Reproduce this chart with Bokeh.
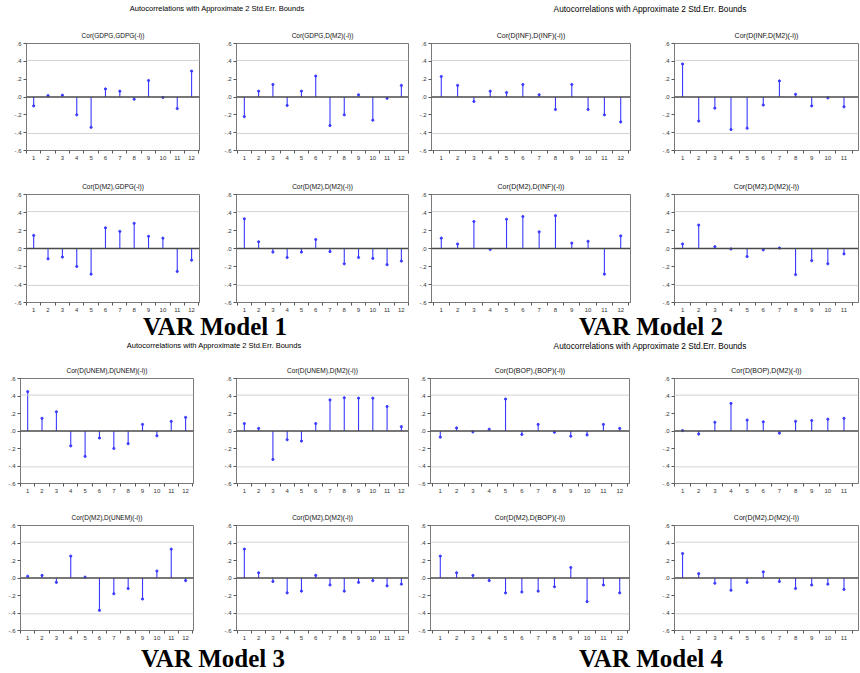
from bokeh.plotting import figure
from bokeh.layouts import column, row
from bokeh.models import Div, Range1d, FixedTicker, Span
from bokeh.embed import file_html
from bokeh.resources import INLINE

# ---------------- data ----------------
lags = list(range(1, 13))
group_title = "Autocorrelations with Approximate 2 Std.Err. Bounds"
model_labels = ["VAR Model 1", "VAR Model 2", "VAR Model 3", "VAR Model 4"]
y_ticks = [-0.6, -0.4, -0.2, 0.0, 0.2, 0.4, 0.6]
y_tick_labels = ["-.6", "-.4", "-.2", ".0", ".2", ".4", ".6"]
bound = 0.41

titles_row1 = ["Cor(GDPG,GDPG(-i))", "Cor(GDPG,D(M2)(-i))",
               "Cor(D(INF),D(INF)(-i))", "Cor(D(INF,D(M2)(-i))"]
titles_row2 = ["Cor(D(M2),GDPG(-i))", "Cor(D(M2),D(M2)(-i))",
               "Cor(D(M2),D(INF)(-i))", "Cor(D(M2),D(M2)(-i))"]
titles_row3 = ["Cor(D(UNEM),D(UNEM)(-i))", "Cor(D(UNEM),D(M2)(-i))",
               "Cor(D(BOP),(BOP)(-i))", "Cor(D(BOP),D(M2)(-i))"]
titles_row4 = ["Cor(D(M2),D(UNEM)(-i))", "Cor(D(M2),D(M2)(-i))",
               "Cor(D(M2),D(BOP)(-i))", "Cor(D(M2),D(M2)(-i))"]

gdpg_gdpg = [-0.10, 0.015, 0.02, -0.20, -0.34, 0.09, 0.065, -0.025, 0.185, -0.005, -0.13, 0.29]
gdpg_m2 = [-0.22, 0.065, 0.14, -0.095, 0.065, 0.235, -0.32, -0.20, 0.025, -0.26, -0.015, 0.13]
inf_inf = [0.23, 0.13, -0.05, 0.065, 0.05, 0.14, 0.025, -0.14, 0.14, -0.14, -0.20, -0.28]
inf_m2 = [0.37, -0.27, -0.125, -0.365, -0.35, -0.09, 0.18, 0.03, -0.10, -0.01, -0.11, -0.12]
m2_gdpg = [0.145, -0.115, -0.095, -0.20, -0.285, 0.23, 0.19, 0.28, 0.135, 0.115, -0.255, -0.13]
m2_m2_1 = [0.33, 0.075, -0.04, -0.10, -0.04, 0.10, -0.035, -0.17, -0.10, -0.11, -0.18, -0.14]
m2_inf = [0.115, 0.05, 0.30, -0.01, 0.325, 0.355, 0.185, 0.365, 0.06, 0.08, -0.285, 0.14]
m2_m2_2 = [0.05, 0.26, 0.02, -0.005, -0.09, -0.015, 0.005, -0.29, -0.135, -0.17, -0.06, -0.02]
unem_unem = [0.45, 0.145, 0.22, -0.17, -0.29, -0.08, -0.20, -0.145, 0.075, -0.055, 0.11, 0.155]
unem_m2 = [0.085, 0.03, -0.325, -0.10, -0.115, 0.085, 0.355, 0.38, 0.375, 0.375, 0.28, 0.05]
bop_bop = [-0.07, 0.035, -0.01, 0.02, 0.365, -0.04, 0.075, -0.015, -0.06, -0.045, 0.075, 0.03]
bop_m2 = [0.005, -0.035, 0.10, 0.315, 0.125, 0.105, -0.025, 0.11, 0.12, 0.135, 0.145, 0.12]
m2_unem = [0.02, 0.03, -0.05, 0.25, 0.01, -0.37, -0.18, -0.12, -0.24, 0.08, 0.33, -0.03]
m2_m2_3 = [0.33, 0.06, -0.04, -0.17, -0.15, 0.03, -0.08, -0.15, -0.05, -0.03, -0.09, -0.07]
m2_bop = [0.25, 0.06, 0.03, -0.03, -0.17, -0.16, -0.15, -0.10, 0.12, -0.27, -0.08, -0.17]
m2_m2_4 = [0.28, 0.05, -0.06, -0.14, -0.05, 0.07, -0.04, -0.12, -0.08, -0.07, -0.13, -0.10]

# ---------------- style ----------------
STEM = "#3a3aff"
FONT = "Liberation Sans"

x_ranges = [(0.5, 12.55), (0.45, 12.5), (0.4, 12.6), (0.5, 11.9)]
col_top = [(212, 26, 13), (200, 24, 4), (233, 19, 15), (215, 29, 2)]
col_bot = [(212, 20, 19), (200, 24, 4), (233, 18, 16), (215, 29, 2)]
title_sizes = ["6.5px", "6.5px", "7px", "7px"]


def panel(title, values, ci, cols, height, bt, bb):
    w, bl, br = cols[ci]
    p = figure(width=w, height=height, x_range=Range1d(*x_ranges[ci]),
               y_range=Range1d(-0.6, 0.6), output_backend="svg",
               toolbar_location=None, title=title,
               min_border_left=bl, min_border_right=br,
               min_border_top=bt, min_border_bottom=bb)
    p.title.text_font = FONT
    p.title.text_font_size = title_sizes[ci]
    p.title.text_font_style = "normal"
    p.title.align = "center"
    p.title.standoff = 9
    p.title.text_color = "#111111"
    p.xgrid.visible = False
    p.ygrid.visible = False
    p.outline_line_color = "#7a7a7a"
    p.background_fill_color = "white"
    p.border_fill_color = "white"
    for b in (bound, -bound):
        p.add_layout(Span(location=b, dimension="width",
                          line_color="#d2d2d2", line_width=1))
    p.add_layout(Span(location=0, dimension="width",
                      line_color="#4a4a4a", line_width=1.6))
    p.segment(x0=lags, y0=[0] * len(lags), x1=lags, y1=values,
              line_color=STEM, line_width=1.1)
    p.scatter(lags, values, size=2.2, marker="circle",
              line_color=STEM, fill_color=STEM)

    p.yaxis.ticker = FixedTicker(ticks=y_ticks)
    p.yaxis.major_label_overrides = dict(zip(y_ticks, y_tick_labels))
    p.yaxis.major_tick_out = 3
    p.yaxis.major_tick_in = 0
    p.yaxis.minor_tick_out = 0
    p.yaxis.minor_tick_in = 0
    p.yaxis.major_label_standoff = 2
    p.yaxis.axis_line_color = "#7a7a7a"

    p.xaxis.ticker = FixedTicker(ticks=lags,
                                 minor_ticks=[l + 0.5 for l in [0] + lags])
    p.xaxis.major_tick_out = 0
    p.xaxis.major_tick_in = 0
    p.xaxis.minor_tick_out = 3
    p.xaxis.minor_tick_in = 0
    p.xaxis.major_label_standoff = 2
    p.xaxis.axis_line_color = "#7a7a7a"
    for ax in (p.xaxis, p.yaxis):
        ax.major_label_text_font = FONT
        ax.major_label_text_font_size = "6px"
        ax.major_label_text_color = "#333333"
        ax.major_tick_line_color = "#555555"
        ax.minor_tick_line_color = "#555555"
    return p


def text_row(height, items):
    spans = ""
    for txt, cx, size, family, weight in items:
        spans += ('<span style="position:absolute;left:%dpx;top:%dpx;'
                  'transform:translate(-50%%,-50%%);white-space:nowrap;'
                  'font-family:\'%s\';font-size:%s;font-weight:%s;color:#000;'
                  'line-height:1">%s</span>' % (cx, height // 2, family, size, weight, txt))
    html = ('<div style="position:relative;width:860px;height:%dpx">%s</div>'
            % (height, spans))
    return Div(text=html, width=860, height=height, margin=(0, 0, 0, 0))


header1 = text_row(18, [(group_title, 217, "7.5px", FONT, "normal"),
                        (group_title, 650, "8.3px", FONT, "normal")])
row1 = row([panel(t, v, i, col_top, 144, 25, 12) for i, (t, v) in
            enumerate(zip(titles_row1, [gdpg_gdpg, gdpg_m2, inf_inf, inf_m2]))])
row2 = row([panel(t, v, i, col_top, 152, 32, 12) for i, (t, v) in
            enumerate(zip(titles_row2, [m2_gdpg, m2_m2_1, m2_inf, m2_m2_2]))])
var1 = text_row(25, [(model_labels[0], 215, "25px", "Liberation Serif", "bold"),
                     (model_labels[1], 651, "25px", "Liberation Serif", "bold")])
header2 = text_row(15, [(group_title, 214, "7.5px", FONT, "normal"),
                        (group_title, 650, "8.3px", FONT, "normal")])
row3 = row([panel(t, v, i, col_bot, 143, 24, 14) for i, (t, v) in
            enumerate(zip(titles_row3, [unem_unem, unem_m2, bop_bop, bop_m2]))])
row4 = row([panel(t, v, i, col_bot, 147, 28, 14) for i, (t, v) in
            enumerate(zip(titles_row4, [m2_unem, m2_m2_3, m2_bop, m2_m2_4]))])
var2 = text_row(29, [(model_labels[2], 213, "25px", "Liberation Serif", "bold"),
                     (model_labels[3], 651, "25px", "Liberation Serif", "bold")])

layout = column([header1, row1, row2, var1, header2, row3, row4, var2])

open("out.html", "w").write(file_html(layout, INLINE))
